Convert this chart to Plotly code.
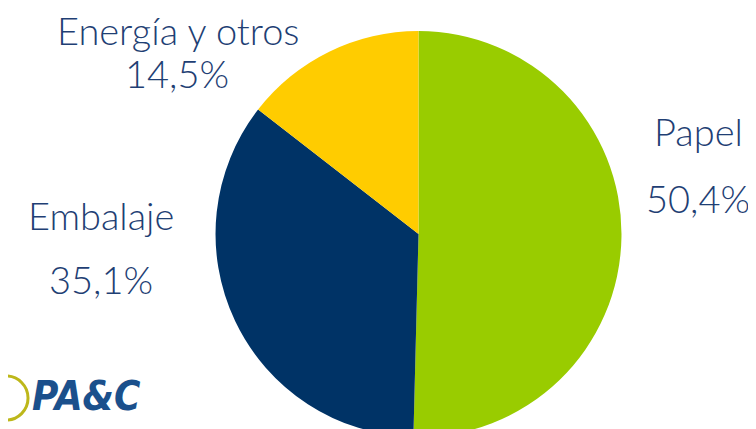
import plotly.graph_objects as go

labels = ['Papel', 'Embalaje', 'Energía y otros']
values = [50.4, 35.1, 14.5]
colors = ['#99CC00', '#003366', '#FFCC00']

# label placement (paper coords) for name and percentage
name_pos = [(0.9127, 0.7133), (0.1230, 0.5175), (0.2249, 0.9487)]
pct_pos = [(0.9127, 0.5571), (0.1230, 0.3683), (0.2235, 0.8485)]

text_color = '#1F3F74'
font_family = 'Lato'

fig = go.Figure(
    data=[
        go.Pie(
            labels=labels,
            values=values,
            marker=dict(colors=colors, line=dict(width=0)),
            sort=False,
            direction='clockwise',
            rotation=0,
            textinfo='none',
            hoverinfo='label+percent',
            domain=dict(x=[0.2745, 0.8115], y=[0.0, 0.9464]),
            showlegend=False,
        )
    ]
)

annotations = []
for lab, val, (nx, ny), (px_, py_) in zip(labels, values, name_pos, pct_pos):
    annotations.append(dict(
        x=nx, y=ny, xref='paper', yref='paper', text=lab, showarrow=False,
        font=dict(family=font_family, size=38, color=text_color, weight=300),
        xanchor='center', yanchor='middle', borderpad=0,
    ))
    annotations.append(dict(
        x=px_, y=py_, xref='paper', yref='paper',
        text=('%.1f' % val).replace('.', ',') + '%', showarrow=False,
        font=dict(family=font_family, size=38, color=text_color, weight=300),
        xanchor='center', yanchor='middle', borderpad=0,
    ))

# logo
annotations.append(dict(
    x=0.029, y=0.0956, xref='paper', yref='paper', text='<b><i>PA&C</i></b>',
    showarrow=False, xanchor='left', yanchor='middle',
    font=dict(family='DejaVu Sans Condensed, Liberation Sans', size=40, color='#1B508C'),
))

fig.update_layout(
    width=756,
    height=429,
    margin=dict(l=0, r=0, t=0, b=0),
    paper_bgcolor='white',
    plot_bgcolor='white',
    annotations=annotations,
    shapes=[dict(
        type='circle', xref='paper', yref='paper',
        x0=-0.0317, x1=0.0265, y0=0.0396, y1=0.1422,
        line=dict(color='#BDB71A', width=3),
    )],
)

fig.write_html('out.html')
